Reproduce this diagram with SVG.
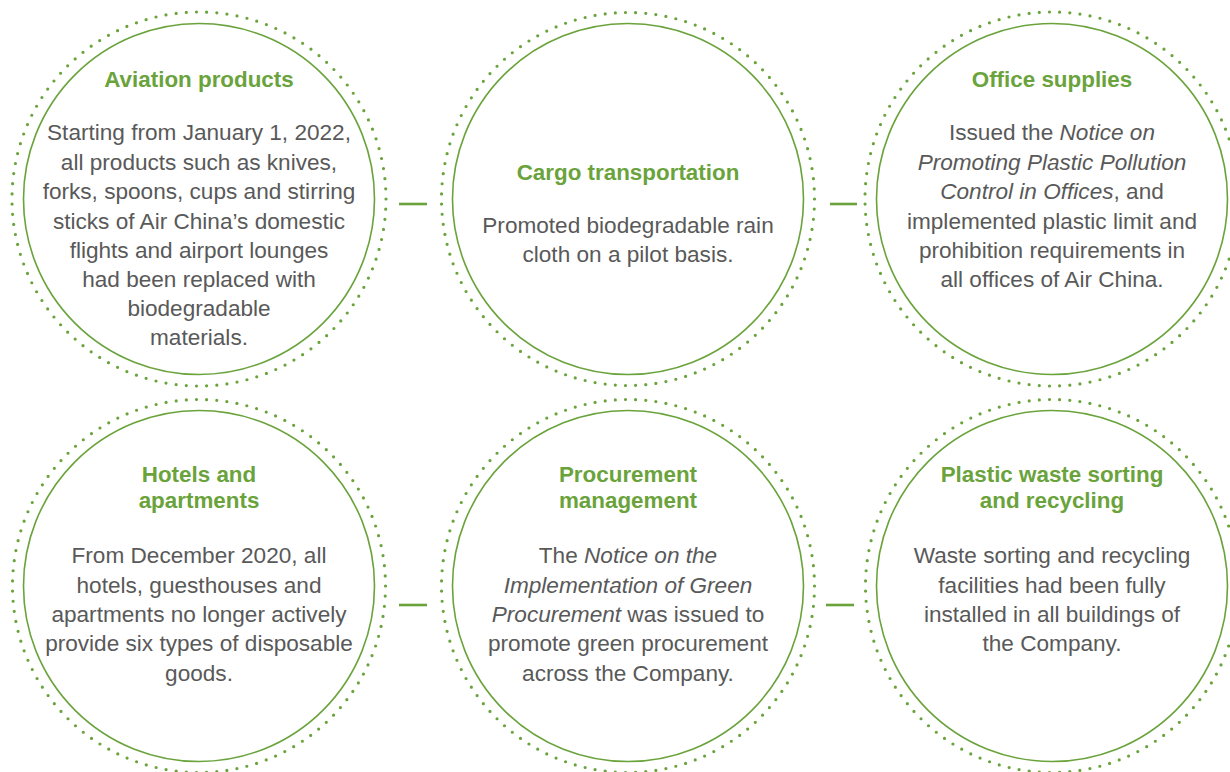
<svg xmlns="http://www.w3.org/2000/svg" width="1230" height="772" viewBox="0 0 1230 772">
<style>
.dots{fill:none;stroke:#6aa33c;stroke-width:3.2;stroke-linecap:round;stroke-dasharray:0 1}
.ring{fill:#fff;stroke:#6aa33c;stroke-width:1.6}
.t{font-family:"Liberation Sans",Arial,sans-serif;font-size:22.4px;font-weight:bold;fill:#6aa33c;text-anchor:middle}
.b{font-family:"Liberation Sans",Arial,sans-serif;font-size:22.6px;fill:#595959;text-anchor:middle}
.i{font-style:italic}
.c{stroke:#6aa33c;stroke-width:2.6;fill:none}
</style>
<rect width="1230" height="772" fill="#fff"/>
<g id="connectors">
<line class="c" x1="399" y1="204" x2="427" y2="204"/>
<line class="c" x1="830" y1="204" x2="857" y2="204"/>
<line class="c" x1="399" y1="605" x2="427" y2="605"/>
<line class="c" x1="826" y1="605" x2="854" y2="605"/>
</g>
<g id="aviation">
<circle class="dots" cx="199" cy="199" r="187" pathLength="115"/>
<circle class="ring" cx="199" cy="199" r="175.5"/>
<text class="t" x="199" y="87">Aviation products</text>
<text class="b" x="199" y="140">Starting from January 1, 2022,</text>
<text class="b" x="199" y="169.5">all products such as knives,</text>
<text class="b" x="199" y="199">forks, spoons, cups and stirring</text>
<text class="b" x="199" y="228.5">sticks of Air China’s domestic</text>
<text class="b" x="199" y="257.5">flights and airport lounges</text>
<text class="b" x="199" y="287">had been replaced with</text>
<text class="b" x="199" y="316">biodegradable</text>
<text class="b" x="199" y="345">materials.</text>
</g>
<g id="cargo">
<circle class="dots" cx="628" cy="199" r="186.5" pathLength="115"/>
<circle class="ring" cx="628" cy="199" r="175.5"/>
<text class="t" x="628" y="180">Cargo transportation</text>
<text class="b" x="628" y="233">Promoted biodegradable rain</text>
<text class="b" x="628" y="262">cloth on a pilot basis.</text>
</g>
<g id="office">
<circle class="dots" cx="1052" cy="199" r="187" pathLength="115"/>
<circle class="ring" cx="1052" cy="199" r="175.5"/>
<text class="t" x="1052" y="87">Office supplies</text>
<text class="b" x="1052" y="140">Issued the <tspan class="i">Notice on</tspan></text>
<text class="b i" x="1052" y="169.5">Promoting Plastic Pollution</text>
<text class="b" x="1052" y="199"><tspan class="i">Control in Offices</tspan>, and</text>
<text class="b" x="1052" y="228.5">implemented plastic limit and</text>
<text class="b" x="1052" y="257.5">prohibition requirements in</text>
<text class="b" x="1052" y="287">all offices of Air China.</text>
</g>
<g id="hotels">
<circle class="dots" cx="199" cy="586" r="186.5" pathLength="115"/>
<circle class="ring" cx="199" cy="586" r="175.5"/>
<text class="t" x="199" y="482">Hotels and</text>
<text class="t" x="199" y="507.5">apartments</text>
<text class="b" x="199" y="563">From December 2020, all</text>
<text class="b" x="199" y="592.5">hotels, guesthouses and</text>
<text class="b" x="199" y="622">apartments no longer actively</text>
<text class="b" x="199" y="651">provide six types of disposable</text>
<text class="b" x="199" y="680.5">goods.</text>
</g>
<g id="procurement">
<circle class="dots" cx="628" cy="586" r="186.5" pathLength="115"/>
<circle class="ring" cx="628" cy="586" r="175.5"/>
<text class="t" x="628" y="482">Procurement</text>
<text class="t" x="628" y="507.5">management</text>
<text class="b" x="628" y="563">The <tspan class="i">Notice on the</tspan></text>
<text class="b i" x="628" y="592.5">Implementation of Green</text>
<text class="b" x="628" y="622"><tspan class="i">Procurement</tspan> was issued to</text>
<text class="b" x="628" y="651">promote green procurement</text>
<text class="b" x="628" y="680.5">across the Company.</text>
</g>
<g id="plastic">
<circle class="dots" cx="1052" cy="586" r="186.5" pathLength="115"/>
<circle class="ring" cx="1052" cy="586" r="175.5"/>
<text class="t" x="1052" y="482">Plastic waste sorting</text>
<text class="t" x="1052" y="507.5">and recycling</text>
<text class="b" x="1052" y="563">Waste sorting and recycling</text>
<text class="b" x="1052" y="592.5">facilities had been fully</text>
<text class="b" x="1052" y="622">installed in all buildings of</text>
<text class="b" x="1052" y="651">the Company.</text>
</g>
</svg>
